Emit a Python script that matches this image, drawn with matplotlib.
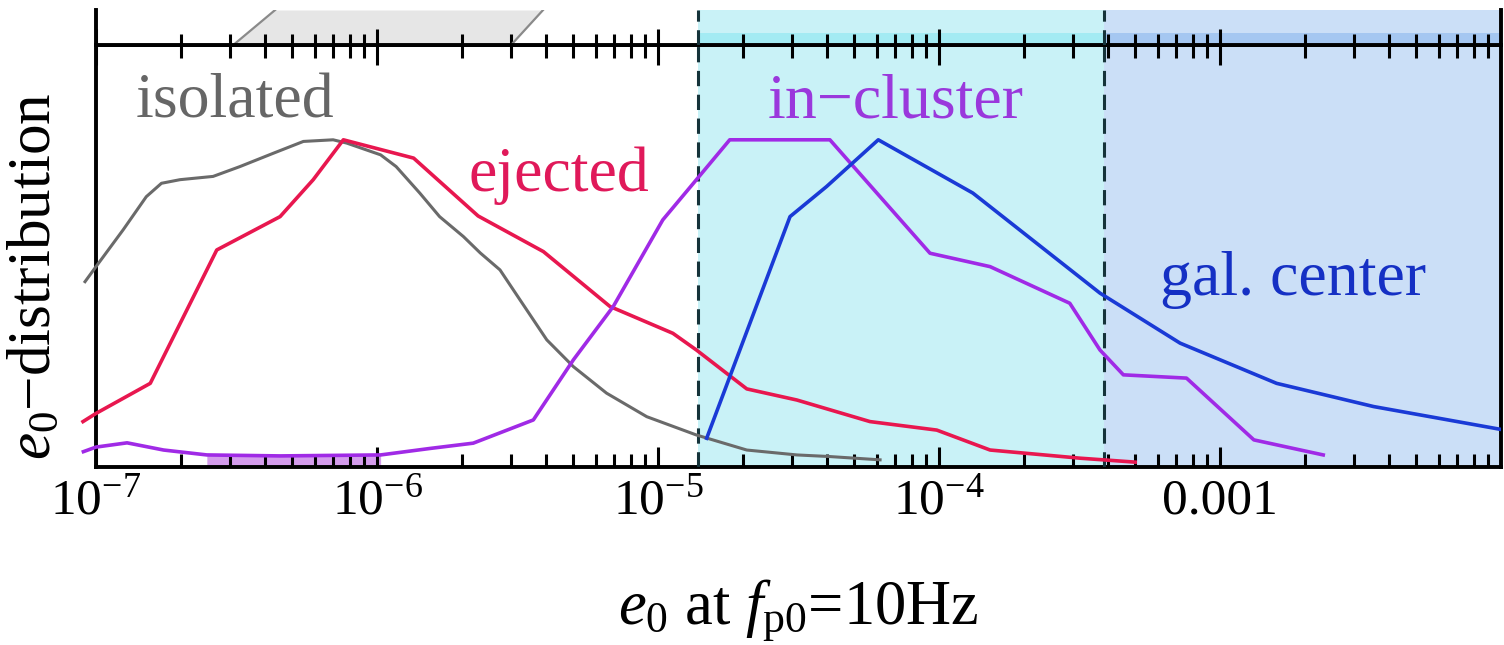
import numpy as np
import matplotlib
matplotlib.use("Agg")
from matplotlib import pyplot as plt
from matplotlib.ticker import LogLocator, FixedLocator, FixedFormatter, NullFormatter

plt.rcParams['font.family'] = ['Liberation Serif', 'DejaVu Serif']
plt.rcParams['mathtext.fontset'] = 'custom'
plt.rcParams['mathtext.rm'] = 'Liberation Serif'
plt.rcParams['mathtext.it'] = 'Liberation Serif:italic'
plt.rcParams['mathtext.bf'] = 'Liberation Serif:bold'

# e0 values (x) and normalised distributions (y)
iso_x = [9.14e-8, 1.0e-7, 1.25e-7, 1.51e-7, 1.71e-7, 1.99e-7, 2.61e-7, 3.25e-7, 4.28e-7,
         5.47e-7, 6.98e-7, 7.80e-7, 1.03e-6, 1.17e-6, 1.42e-6, 1.67e-6, 2.03e-6, 2.33e-6,
         2.74e-6, 3.23e-6, 4.02e-6, 5.00e-6, 6.56e-6, 9.12e-6, 1.37e-5, 2.07e-5, 3.12e-5,
         4.09e-5, 6.17e-5]
iso_y = [0.566, 0.612, 0.725, 0.826, 0.867, 0.878, 0.888, 0.918, 0.959,
         0.995, 1.000, 0.990, 0.954, 0.918, 0.837, 0.765, 0.704, 0.654,
         0.602, 0.510, 0.388, 0.306, 0.225, 0.153, 0.097, 0.051, 0.036,
         0.031, 0.021]

ej_x = [8.99e-8, 1.0e-7, 1.56e-7, 2.69e-7, 4.52e-7, 5.93e-7, 7.59e-7, 1.35e-6, 2.29e-6,
        3.91e-6, 6.75e-6, 1.13e-5, 1.37e-5, 2.07e-5, 3.12e-5, 5.68e-5, 9.82e-5, 1.52e-4,
        3.18e-4, 4.99e-4]
ej_y = [0.138, 0.163, 0.255, 0.663, 0.765, 0.878, 1.000, 0.944, 0.767,
        0.658, 0.490, 0.408, 0.357, 0.238, 0.204, 0.138, 0.112, 0.051,
        0.026, 0.014]

cl_x = [9.02e-8, 1.0e-7, 1.29e-7, 1.74e-7, 2.48e-7, 4.52e-7, 1.03e-6, 1.55e-6, 2.20e-6,
        3.60e-6, 5.00e-6, 6.93e-6, 1.04e-5, 1.37e-5, 1.80e-5, 4.09e-5, 6.17e-5, 9.29e-5,
        1.52e-4, 2.92e-4, 3.74e-4, 4.53e-4, 7.60e-4, 1.32e-3, 2.33e-3]
cl_y = [0.046, 0.060, 0.073, 0.051, 0.036, 0.033, 0.036, 0.056, 0.072,
        0.143, 0.327, 0.490, 0.755, 0.878, 1.000, 1.000, 0.826, 0.653,
        0.612, 0.500, 0.357, 0.281, 0.271, 0.082, 0.036]

gc_x = [1.49e-5, 2.95e-5, 3.98e-5, 6.08e-5, 1.32e-4, 3.74e-4, 7.21e-4, 1.59e-3, 3.52e-3, 1.0e-2]
gc_y = [0.087, 0.765, 0.857, 1.000, 0.837, 0.531, 0.378, 0.255, 0.184, 0.114]

# region borders
cluster_lo = 1.39e-5
cluster_hi = 3.87e-4
x_range = (1e-7, 1e-2)
cl_fill_range = (2.4e-7, 1.05e-6)

# slanted band in the panel above (left / right edge at its bottom and top)
band_y = [0.0, 1.0]
band_left = [3.08e-7, 4.34e-7]
band_right = [3.0e-6, 3.9e-6]

major_ticks = [1e-7, 1e-6, 1e-5, 1e-4, 1e-3]
major_labels = ['$10^{-7}$', '$10^{-6}$', '$10^{-5}$', '$10^{-4}$', '0.001']

c_iso, c_ej, c_cl, c_gc = '#6a6a6a', '#e8174f', '#a02ae6', '#1a3ad6'
c_cyan, c_blue = '#c9f2f7', '#cbdff7'

W, H = 1504, 645
fig = plt.figure(figsize=(W / 100, H / 100), dpi=100)
ax = fig.add_axes([96 / W, 178.3 / H, 1405 / W, 421.7 / H])
axu = fig.add_axes([96 / W, 600 / H, 1405 / W, 35 / H])

for a in (ax, axu):
    a.set_xscale('log')
    a.set_xlim(*x_range)
    a.axvspan(cluster_lo, cluster_hi, color=c_cyan, lw=0, zorder=0)
    a.axvspan(cluster_hi, x_range[1], color=c_blue, lw=0, zorder=0)
    a.axvline(cluster_lo, color='#15333a', lw=2.2, dashes=(5, 2.8), zorder=3)
    a.axvline(cluster_hi, color='#15333a', lw=2.2, dashes=(5, 2.8), zorder=3)
    a.set_yticks([])
    for s in a.spines.values():
        s.set_linewidth(2.8)
    a.xaxis.set_major_locator(FixedLocator(major_ticks))
    a.xaxis.set_minor_locator(LogLocator(base=10, subs=np.arange(2, 10), numticks=20))
    a.xaxis.set_minor_formatter(NullFormatter())

# main panel
ax.set_ylim(0, 1.29)
ax.plot(iso_x, iso_y, color=c_iso, lw=2.2, clip_on=False, zorder=4)
ax.plot(ej_x, ej_y, color=c_ej, lw=2.6, clip_on=False, zorder=4)
ax.plot(cl_x, cl_y, color=c_cl, lw=2.6, clip_on=False, zorder=4)
ax.plot(gc_x, gc_y, color=c_gc, lw=2.6, zorder=4)
cx = np.array(cl_x)
ax.fill_between(cl_x, cl_y, 0, where=(cx >= cl_fill_range[0]) & (cx <= cl_fill_range[1]),
                color='#d49cec', lw=0, zorder=1)

ax.xaxis.set_major_formatter(FixedFormatter(major_labels))
ax.tick_params(axis='x', which='both', direction='in', top=True, bottom=True,
               labelsize=37, pad=8, width=2.2)
ax.tick_params(axis='x', which='major', length=14.5)
ax.tick_params(axis='x', which='minor', length=9.5)

ax.text(1.38e-7, 1.067, 'isolated', color='#666666', fontsize=46, va='baseline')
ax.text(2.11e-6, 0.842, 'ejected', color='#e0195a', fontsize=46, va='baseline')
ax.text(2.46e-5, 1.067, 'in\u2212cluster', color='#9a38dc', fontsize=46, va='baseline')
ax.text(6.1e-4, 0.526, 'gal. center', color='#1530c4', fontsize=46, va='baseline')

ax.set_xlabel('$e_0$ at $f_{\\rm p0}$=10Hz', fontsize=45)
ax.xaxis.set_label_coords(0.5, -0.262)
ax.set_ylabel('$e_0$\u2212distribution', fontsize=44)
ax.yaxis.set_label_coords(-0.024, 0.452)

# strip of the panel above
axu.set_ylim(0, 1)
axu.spines['top'].set_visible(False)
axu.fill_betweenx(band_y, band_left, band_right, color='#e6e6e6', lw=0, zorder=1)
axu.plot(band_left, band_y, color='#8a8a8a', lw=1.6, zorder=2)
axu.plot(band_right, band_y, color='#8a8a8a', lw=1.6, zorder=2)
axu.fill_between([cluster_lo, cluster_hi], 0, 0.34, color='#a3ebf3', lw=0, zorder=1)
axu.fill_between([cluster_hi, x_range[1]], 0, 0.34, color='#a5c7f1', lw=0, zorder=1)
axu.xaxis.set_major_formatter(NullFormatter())
axu.tick_params(axis='x', which='both', direction='in', top=False, bottom=True, width=2.2)
axu.tick_params(axis='x', which='major', length=11.5)
axu.tick_params(axis='x', which='minor', length=8)

fig.savefig('out.png', dpi=100)
